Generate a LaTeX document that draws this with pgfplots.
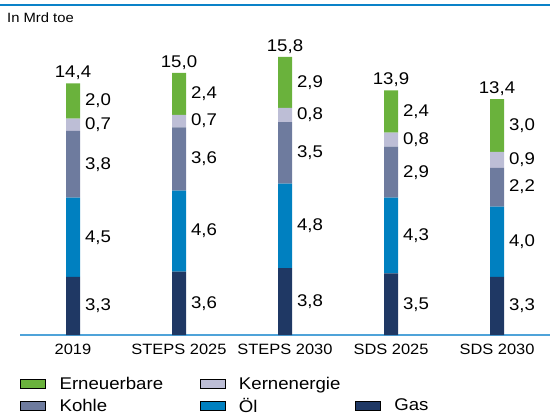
\documentclass[border=0pt]{standalone}
\usepackage{fontspec}
\setmainfont{Liberation Sans}[FakeStretch=1.1]
\usepackage{pgfplots}
\pgfplotsset{compat=1.18}
\definecolor{cGas}{HTML}{1F3864}
\definecolor{cOel}{HTML}{0080C0}
\definecolor{cKohle}{HTML}{6E7B9E}
\definecolor{cKern}{HTML}{BDBED6}
\definecolor{cErn}{HTML}{6AB23C}
\definecolor{cLine}{HTML}{4FA3D9}
\definecolor{cRule}{HTML}{0A82C8}
\pgfplotsset{
  seg/.style={fill=#1, draw=none, forget plot, nodes near coords,
    point meta=rawy,
    every node near coord/.append style={anchor=west, xshift=8.5bp,
      font=\fontsize{17}{20}\selectfont, text=black}},
}
\begin{document}
\begin{tikzpicture}
\useasboundingbox (-20bp,-81bp) rectangle (530bp,335bp);
\draw[cRule, line width=2.5bp] (-20bp,330bp) -- (530bp,330bp);
\node[anchor=base west, font=\fontsize{13.5}{16}\selectfont, inner sep=0pt] at (-13bp,312bp) {In Mrd toe};
\begin{axis}[
  at={(0,0)}, anchor=south west,
  x=106bp, y=17.6bp,
  xmin=-0.5, xmax=4.5, ymin=0, ymax=17.2,
  ybar stacked, bar width=14bp,
  axis y line=none, axis x line*=bottom,
  x axis line style={draw=cLine, line width=1.5bp, -},
  xtick={0,...,4},
  xticklabels={2019, STEPS 2025, STEPS 2030, SDS 2025, SDS 2030},
  xtick style={draw=none}, major tick length=0pt,
  xticklabel style={font=\fontsize{15}{18}\selectfont, yshift=-6bp},
  clip=false,
  /pgf/number format/.cd, use comma, fixed, fixed zerofill, precision=1, assume math mode=true, /pgfplots/.cd,
  legend image code/.code={\fill[#1] (0bp,-4.5bp) rectangle (25bp,4.5bp); \path (37bp,0bp);},
  legend columns=3,
  legend style={at={(axis description cs:0,0)}, anchor=north west, yshift=-40bp,
    draw=none, fill=none, inner sep=0pt, row sep=3bp,
    font=\fontsize{17}{20}\selectfont, column sep=0bp},
  legend cell align=left,
]
\addplot[seg=cGas] coordinates {(0,3.3) (1,3.6) (2,3.8) (3,3.5) (4,3.3)};
\addplot[seg=cOel] coordinates {(0,4.5) (1,4.6) (2,4.8) (3,4.3) (4,4.0)};
\addplot[seg=cKohle] coordinates {(0,3.8) (1,3.6) (2,3.5) (3,2.9) (4,2.2)};
\addplot[seg=cKern] coordinates {(0,0.7) (1,0.7) (2,0.8) (3,0.8) (4,0.9)};
\addplot[seg=cErn] coordinates {(0,2.0) (1,2.4) (2,2.9) (3,2.4) (4,3.0)};
\addplot[draw=none, fill=none, forget plot, nodes near coords, point meta=explicit,
  every node near coord/.append style={anchor=south, font=\fontsize{17}{20}\selectfont, text=black}]
  coordinates {(0,0.001) [14.4] (1,0.001) [15.0] (2,0.001) [15.8] (3,0.001) [13.9] (4,0.001) [13.4]};
\addlegendimage{fill=cErn}\addlegendentry[text width=138bp]{Erneuerbare}
\addlegendimage{fill=cKern}\addlegendentry[text width=114bp]{Kernenergie}
\addlegendimage{empty legend}\addlegendentry{}
\addlegendimage{fill=cKohle}\addlegendentry[text width=138bp]{Kohle}
\addlegendimage{fill=cOel}\addlegendentry[text width=114bp]{Öl}
\addlegendimage{fill=cGas}\addlegendentry{Gas}
\end{axis}
\end{tikzpicture}
\end{document}
